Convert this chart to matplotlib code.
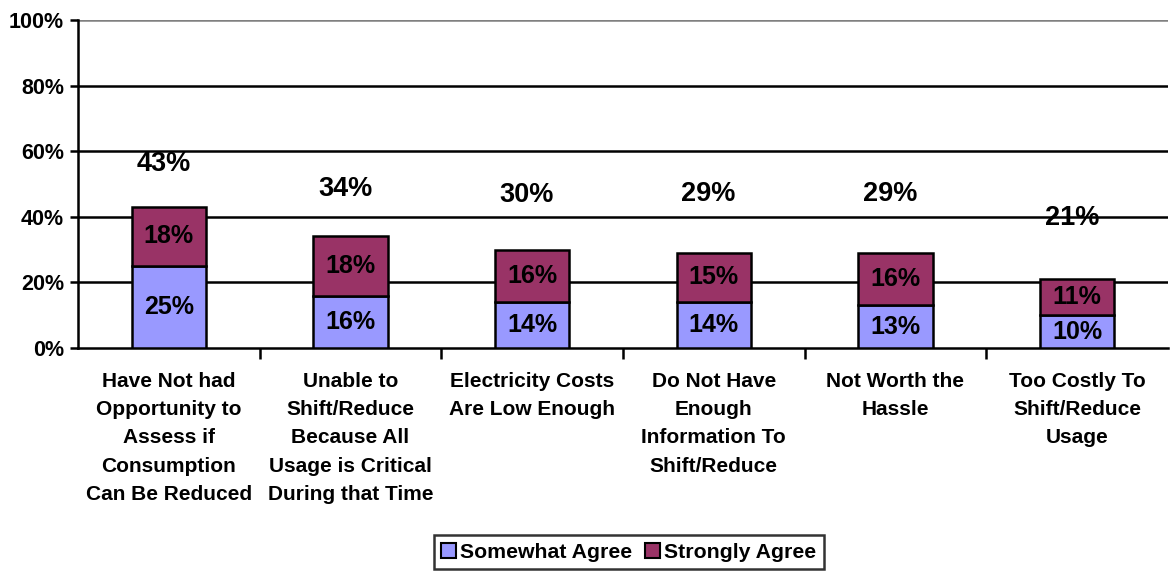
import matplotlib
matplotlib.use("Agg")
import matplotlib.pyplot as plt
import numpy as np
from matplotlib.patches import Patch
from matplotlib.ticker import FixedLocator, PercentFormatter

categories = [
    "Have Not had\nOpportunity to\nAssess if\nConsumption\nCan Be Reduced",
    "Unable to\nShift/Reduce\nBecause All\nUsage is Critical\nDuring that Time",
    "Electricity Costs\nAre Low Enough",
    "Do Not Have\nEnough\nInformation To\nShift/Reduce",
    "Not Worth the\nHassle",
    "Too Costly To\nShift/Reduce\nUsage",
]
somewhat_agree = [25, 16, 14, 14, 13, 10]
strongly_agree = [18, 18, 16, 15, 16, 11]
totals = [43, 34, 30, 29, 29, 21]
# vertical offset of the total labels above each bar (layout)
total_label_offset = [13.0, 14.5, 16.5, 18, 18, 18.5]

plt.rcParams['font.family'] = ['Liberation Sans', 'DejaVu Sans']
plt.rcParams['font.weight'] = 'bold'

fig = plt.figure(figsize=(11.7, 5.71), dpi=100)
ax = fig.add_axes([78/1170, 1-348/571, 1090/1170, 328/571])

x = np.arange(len(categories))
w = 0.41
c1 = '#9999FF'
c2 = '#993366'
ax.bar(x, somewhat_agree, w, color=c1, edgecolor='black', linewidth=1.8, zorder=3)
ax.bar(x, strongly_agree, w, bottom=somewhat_agree, color=c2, edgecolor='black', linewidth=1.8, zorder=3)

for i in range(len(x)):
    ax.text(x[i], somewhat_agree[i]/2, f"{somewhat_agree[i]}%", ha='center', va='center',
            fontsize=18, fontweight='bold', zorder=4)
    ax.text(x[i], somewhat_agree[i] + strongly_agree[i]/2, f"{strongly_agree[i]}%", ha='center',
            va='center', fontsize=18, fontweight='bold', zorder=4)
    ax.text(x[i] - 0.03, totals[i] + total_label_offset[i], f"{totals[i]}%", ha='center', va='center',
            fontsize=19.5, fontweight='bold', zorder=4)

ax.set_xlim(-0.5, len(x) - 0.5)
ax.set_ylim(0, 100)
ax.set_yticks([0, 20, 40, 60, 80, 100])
ax.yaxis.set_major_formatter(PercentFormatter(decimals=0))
for y in [20, 40, 60, 80]:
    ax.axhline(y, color='black', linewidth=1.8, zorder=1)
ax.axhline(100, color='#808080', linewidth=1.8, zorder=1)

ax.spines['top'].set_visible(False)
ax.spines['right'].set_visible(False)
ax.spines['left'].set_linewidth(1.8)
ax.spines['bottom'].set_linewidth(1.8)

ax.set_xticks(x)
ax.set_xticklabels(categories, fontsize=15, fontweight='bold', linespacing=1.62)
ax.tick_params(axis='x', length=0, pad=17)
ax.xaxis.set_minor_locator(FixedLocator(np.arange(0.5, len(x) - 0.5, 1)))
ax.tick_params(axis='x', which='minor', length=8, width=1.8, direction='out')
ax.tick_params(axis='y', length=6, width=1.8, labelsize=15.5, pad=4)
for lbl in ax.get_yticklabels():
    lbl.set_fontweight('bold')

handles = [Patch(facecolor=c1, edgecolor='black', linewidth=1.5, label='Somewhat Agree'),
           Patch(facecolor=c2, edgecolor='black', linewidth=1.5, label='Strongly Agree')]
leg = fig.legend(handles=handles, loc='center', bbox_to_anchor=(629/1170, 1-552/571), ncol=2,
                 frameon=True, fancybox=False, edgecolor='black',
                 handlelength=0.7, handleheight=0.7, handletextpad=0.2, columnspacing=0.6,
                 borderpad=0.35, prop={'weight': 'bold', 'size': 15.3})
leg.get_frame().set_linewidth(1.8)

fig.savefig('out.png', dpi=100)
